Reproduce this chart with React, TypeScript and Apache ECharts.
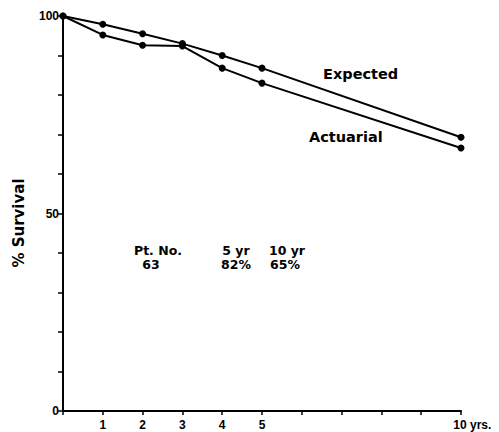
import React, { useEffect, useRef } from "react";
import * as echarts from "echarts";

const years = [0, 1, 2, 3, 4, 5, 10];
const expected = [100, 97.9, 95.5, 93.0, 90.0, 86.8, 69.3];
const actuarial = [100, 95.2, 92.6, 92.4, 86.8, 83.0, 66.6];
const xLabelYears = [1, 2, 3, 4, 5, 10];
const yLabelValues = [0, 50, 100];
const seriesNames = ["Expected", "Actuarial"];
const yAxisTitle = "% Survival";
const tableHeader = ["Pt. No.", "5 yr", "10 yr"];
const tableValues = ["63", "82%", "65%"];

const FONT = "'Liberation Sans', Arial, sans-serif";
const FONT2 = "'DejaVu Sans', sans-serif";

export default function App() {
  const ref = useRef<HTMLDivElement>(null);
  useEffect(() => {
    if (!ref.current) return;
    const chart = echarts.init(ref.current, null, { renderer: "svg" });
    const pts = (ys: number[]) => years.map((x, i) => [x, ys[i]]);
    const lineSeries = (name: string, ys: number[]) => ({
      type: "line",
      name,
      data: pts(ys),
      symbol: "circle",
      symbolSize: 7,
      showSymbol: true,
      lineStyle: { color: "#000", width: 2 },
      itemStyle: { color: "#000" },
    });
    const txt = (text: string, x: number, y: number, size = 13, align = "left", rotation = 0) => ({
      type: "text",
      x,
      y,
      rotation,
      style: {
        text,
        fill: "#000",
        font: `bold ${size}px ${FONT2}`,
        textAlign: align,
        textVerticalAlign: "middle",
      },
    });
    chart.setOption({
      animation: false,
      backgroundColor: "#fff",
      grid: { left: 63, right: 38, top: 16, bottom: 21, containLabel: false },
      xAxis: {
        type: "value",
        min: 0,
        max: 10,
        interval: 1,
        splitLine: { show: false },
        axisLine: { show: true, lineStyle: { color: "#000", width: 2 } },
        axisTick: { show: true, length: 4, lineStyle: { color: "#000", width: 1.5 } },
        axisLabel: {
          margin: 8,
          color: "#000",
          fontFamily: FONT,
          fontWeight: "bold",
          fontSize: 12,
          formatter: (v: number) => {
            if (!xLabelYears.includes(v)) return "";
            if (v === 10) return "{p|}{a|10}{b|yrs.}";
            return String(v);
          },
          rich: {
            p: { width: 24 },
            a: { fontFamily: FONT, fontWeight: "bold", fontSize: 12, color: "#000" },
            b: { fontFamily: FONT, fontWeight: "bold", fontSize: 12, color: "#000", width: 24, align: "left", padding: [0, 0, 0, 2] },
          },
        },
      },
      yAxis: {
        type: "value",
        min: 0,
        max: 100,
        interval: 10,
        splitLine: { show: false },
        axisLine: { show: true, lineStyle: { color: "#000", width: 2 } },
        axisTick: { show: true, length: 5, lineStyle: { color: "#000", width: 1.5 } },
        axisLabel: {
          margin: 4,
          color: "#000",
          fontFamily: FONT,
          fontWeight: "bold",
          fontSize: 12,
          formatter: (v: number) => (yLabelValues.includes(v) ? String(v) : ""),
        },
      },
      series: [lineSeries(seriesNames[0], expected), lineSeries(seriesNames[1], actuarial)],
      graphic: [
        txt(yAxisTitle, 19, 223, 15, "center", Math.PI / 2),
        txt(seriesNames[0], 323, 74, 14.5),
        txt(seriesNames[1], 309, 137, 14.5),
        txt(tableHeader[0], 158, 250, 12.5, "center"),
        txt(tableHeader[1], 236, 250, 12.5, "center"),
        txt(tableHeader[2], 287, 250, 12.5, "center"),
        txt(tableValues[0], 151, 264, 12.5, "center"),
        txt(tableValues[1], 236, 264, 12.5, "center"),
        txt(tableValues[2], 285, 264, 12.5, "center"),
      ],
    });
    return () => chart.dispose();
  }, []);
  return (
    <div
      ref={ref}
      style={{ position: "fixed", left: 0, top: 0, width: 499, height: 432 }}
    />
  );
}
